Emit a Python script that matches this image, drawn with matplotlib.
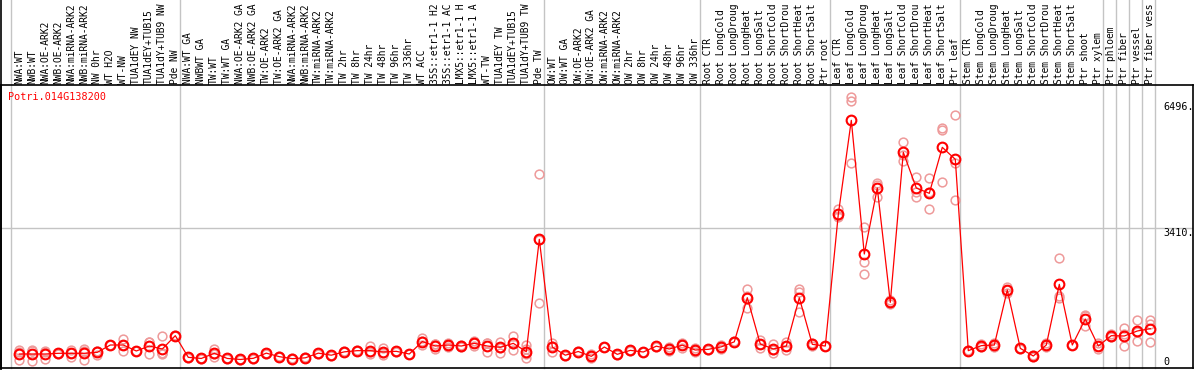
import matplotlib
matplotlib.use("Agg")
import matplotlib.pyplot as plt
import matplotlib.transforms as mtransforms
from matplotlib.lines import Line2D

# ---------------- data ----------------
gene_id = "Potri.014G138200"

labels = [
    "NWA:WT", "NWB:WT", "NWA:OE-ARK2", "NWB:OE-ARK2", "NWA:miRNA-ARK2", "NWB:miRNA-ARK2",
    "NW 0hr", "WT H2O", "WT-NW", "TUA1dEY NW", "TUA1dEY+TUB15", "TUA1dY+TUB9 NW", "Pde NW",
    "NWA:WT GA", "NWBWT GA", "TW:WT", "TW:WT GA", "NWA:OE-ARK2 GA", "NWB:OE-ARK2 GA",
    "TW:OE-ARK2", "TW:OE-ARK2 GA", "NWA:miRNA-ARK2", "NWB:miRNA-ARK2", "TW:miRNA-ARK2",
    "TW:miRNA-ARK2", "TW 2hr", "TW 8hr", "TW 24hr", "TW 48hr", "TW 96hr", "TW 336hr",
    "WT ACC", "35S::etr1-1 H2", "35S::etr1-1 AC", "LMX5::etr1-1 H", "LMX5::etr1-1 A",
    "WT-TW", "TUA1dEY TW", "TUA1dEY+TUB15", "TUA1dY+TUB9 TW", "Pde TW",
    "OW:WT", "OW:WT GA", "OW:OE-ARK2", "OW:OE-ARK2 GA", "OW:miRNA-ARK2", "OW:miRNA-ARK2",
    "OW 2hr", "OW 8hr", "OW 24hr", "OW 48hr", "OW 96hr", "OW 336hr",
    "Root CTR", "Root LongCold", "Root LongDroug", "Root LongHeat", "Root LongSalt",
    "Root ShortCold", "Root ShortDrou", "Root ShortHeat", "Root ShortSalt", "Ptr root",
    "Leaf CTR", "Leaf LongCold", "Leaf LongDroug", "Leaf LongHeat", "Leaf LongSalt",
    "Leaf ShortCold", "Leaf ShortDrou", "Leaf ShortHeat", "Leaf ShortSalt", "Ptr leaf",
    "Stem CTR", "Stem LongCold", "Stem LongDroug", "Stem LongHeat", "Stem LongSalt",
    "Stem ShortCold", "Stem ShortDrou", "Stem ShortHeat", "Stem ShortSalt", "Ptr shoot",
    "Ptr xylem", "Ptr phloem", "Ptr fiber", "Ptr vessel", "Ptr fiber vess",
]

group_sizes = [13, 28, 12, 10, 10, 11, 1, 1, 1, 1]

means = [
    319, 319, 319, 336, 336, 336, 360, 540, 540, 393, 515, 442, 769,
    237, 210, 336, 210, 185, 213, 340, 254, 205, 225, 340, 290, 372, 401, 401, 368, 385, 319,
    625, 515, 540, 515, 581, 515, 483, 581, 376, 3134,
    490, 290, 380, 262, 491, 311, 409, 368, 511, 442, 536, 417,
    434, 495, 618, 1702, 565, 442, 515, 1700, 556, 515,
    3748, 6056, 2774, 4394, 1588, 5270, 4394, 4264, 5393, 5098,
    401, 524, 540, 1890, 458, 270, 540, 2029, 540, 1178, 515,
    769, 761, 884, 941,
]

replicates = [
    [417, 368, 172], [417, 393, 147], [401, 368, 188], [352, 336, 320], [417, 354, 237],
    [450, 386, 172], [401, 384, 295], [550, 540, 530], [687, 532, 401], [400, 393, 386],
    [622, 612, 311], [761, 352, 336, 319], [780, 767, 760],
    [245, 236, 230], [215, 210, 205], [442, 329, 237], [220, 210, 200], [195, 185, 175],
    [223, 213, 203], [350, 340, 330], [264, 254, 244], [215, 205, 195], [235, 225, 215],
    [350, 340, 330], [300, 290, 280], [382, 372, 362], [411, 401, 391], [515, 380, 308],
    [458, 340, 306], [395, 385, 375], [329, 319, 309],
    [700, 630, 545], [556, 555, 434], [581, 540, 499], [530, 515, 500], [646, 581, 516],
    [596, 581, 368], [622, 475, 352], [761, 565, 417], [540, 440, 311, 213], [4730, 3109, 1563],
    [581, 521, 368], [300, 290, 280], [390, 380, 370], [311, 262, 213], [501, 491, 481],
    [321, 311, 301], [419, 409, 399], [378, 368, 358], [521, 511, 501], [491, 442, 393],
    [600, 536, 470], [470, 417, 364],
    [444, 434, 424], [540, 495, 450], [628, 618, 608], [1907, 1750, 1440], [663, 575, 458],
    [565, 425, 336], [622, 505, 417], [1907, 1850, 1342], [600, 556, 512], [525, 515, 505],
    [3871, 3700, 3674], [6620, 6538, 5000], [3445, 2570, 2283], [4525, 4480, 4181],
    [1637, 1588, 1540], [5532, 5213, 5065], [4673, 4300, 4181], [4632, 4290, 3871],
    [5859, 5810, 4534], [6187, 5000, 4100],
    [411, 401, 391], [560, 524, 490], [580, 540, 500], [1972, 1890, 1809], [468, 458, 448],
    [300, 270, 240], [580, 540, 500], [2668, 1735, 1686], [550, 540, 530], [1270, 1252, 1007],
    [597, 515, 434],
    [800, 769, 738], [949, 820, 515], [1154, 860, 638], [1154, 1063, 606],
]

ytick_values = [0, 3410, 6496]

# ---------------- layout ----------------
W, H = 1194, 370
fig = plt.figure(figsize=(W / 100, H / 100), dpi=100)
ax_left, ax_right, ax_top, ax_bot = 1, 1193, 85, 368
ax = fig.add_axes([ax_left / W, (H - ax_bot) / H, (ax_right - ax_left) / W, (ax_bot - ax_top) / H])

n = len(labels)
xs = list(range(n))
px_per_x = 13.0
x0_px = 19.3
ax.set_xlim((ax_left - x0_px) / px_per_x, (ax_right - x0_px) / px_per_x)
val_per_px = 24.55
zero_px = 367
ax.set_ylim(-(ax_bot - zero_px) * val_per_px, (zero_px - ax_top) * val_per_px)

ax.set_xticks([])
ax.set_yticks([])
for s in ax.spines.values():
    s.set_color("black")
    s.set_linewidth(1.2)

mono = "DejaVu Sans Mono"
fs = 7.3
fs_lab = 6.95
grey = "#c4c4c4"

# horizontal grid at middle tick
ax.axhline(ytick_values[1], color=grey, lw=1.0, zorder=0)

# vertical group separators (extend through label area)
ytop_axes = (ax_bot - 0) / (ax_bot - ax_top)
bounds = [0]
for g in group_sizes:
    bounds.append(bounds[-1] + g)
for b in bounds:
    ax.axvline(b - 0.62, 0, ytop_axes, color=grey, lw=1.0, clip_on=False, zorder=0)

# left border extending to top
fig.add_artist(Line2D([ax_left / W, ax_left / W], [0, 1], color="black", lw=1.2,
                      transform=fig.transFigure))

# category labels
trans = mtransforms.blended_transform_factory(ax.transData, ax.transAxes)
ylab = (ax_bot - 83.5) / (ax_bot - ax_top)
for x, lab in zip(xs, labels):
    ax.text(x, ylab, lab, rotation=90, ha="center", va="bottom", family=mono,
            fontsize=fs_lab, transform=trans, clip_on=False)

# replicates
for x, reps in zip(xs, replicates):
    ax.plot([x] * len(reps), reps, ls="none", marker="o", ms=6.3, mfc="none",
            mec="#ee9a9a", mew=1.1, zorder=2, clip_on=False)

# mean line
ax.plot(xs, means, color="#ff0000", lw=0.9, marker="o", ms=7, mfc="none",
        mec="#ff0000", mew=1.5, zorder=3, clip_on=False)

# gene id
fig.text(8 / W, (H - 97) / H, gene_id, color="#ff0000", family=mono, fontsize=fs,
         ha="left", va="center")

# y labels on right
xt = (1163 - ax_left) / (ax_right - ax_left)
ytrans = mtransforms.blended_transform_factory(ax.transAxes, ax.transData)
for v in ytick_values:
    if v == 0:
        ax.text(xt, v, "0", family=mono, fontsize=fs, ha="left", va="bottom", transform=ytrans)
    else:
        ax.text(xt, v, f"{v}.", family=mono, fontsize=fs, ha="left", va="top", transform=ytrans)

fig.savefig("out.png", dpi=100)
